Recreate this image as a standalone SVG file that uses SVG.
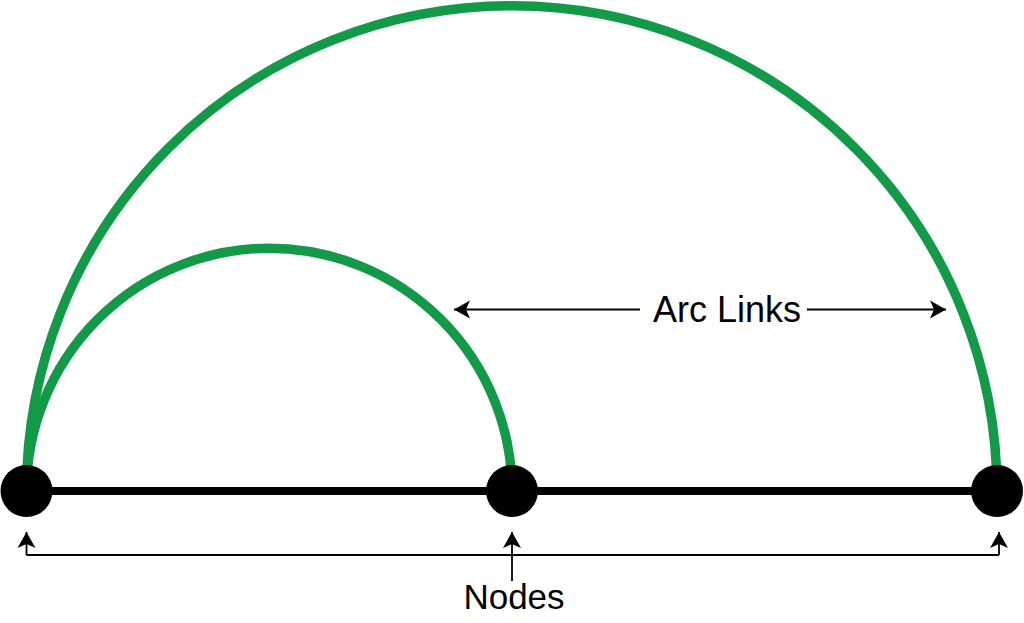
<svg xmlns="http://www.w3.org/2000/svg" width="1024" height="623" viewBox="0 0 1024 623">
<style>
.arc{fill:none;stroke:#129a48;stroke-width:9.5}
.base{stroke:#000;stroke-width:8}
.node{fill:#000}
.thin{fill:none;stroke:#000;stroke-width:1.8}
.lbl{font-family:"Liberation Sans",Arial,sans-serif;fill:#000}
</style>
<defs>
<marker id="ah" viewBox="-17 -10 18 20" refX="0" refY="0" markerWidth="18" markerHeight="20" markerUnits="userSpaceOnUse" orient="auto">
<path d="M0,0 L-16,-9 L-12,0 L-16,9 Z" fill="#000"/>
</marker>
</defs>
<g id="links">
<path class="arc" d="M26.5,491 A485.25,485.25 0 0 1 997,491"/>
<path class="arc" d="M26.5,491 A242.75,242.75 0 0 1 512,491"/>
</g>
<g id="connectors">
<line class="base" x1="26.5" y1="491" x2="997" y2="491"/>
<path class="thin" d="M26.5,555 H999"/>
<path class="thin" d="M26.5,555 V532" marker-end="url(#ah)"/>
<path class="thin" d="M512,581 V532" marker-end="url(#ah)"/>
<path class="thin" d="M999,555 V532" marker-end="url(#ah)"/>
<path class="thin" d="M640,309.5 H454" marker-end="url(#ah)"/>
<path class="thin" d="M807,309.5 H946" marker-end="url(#ah)"/>
</g>
<g id="node-1"><circle class="node" cx="26.5" cy="491" r="26"/></g>
<g id="node-2"><circle class="node" cx="512" cy="491" r="26"/></g>
<g id="node-3"><circle class="node" cx="997" cy="491" r="26"/></g>
<g id="label-arc-links"><text class="lbl" x="653" y="322" font-size="36">Arc Links</text></g>
<g id="label-nodes"><text class="lbl" x="514" y="609" font-size="35" text-anchor="middle">Nodes</text></g>
</svg>
